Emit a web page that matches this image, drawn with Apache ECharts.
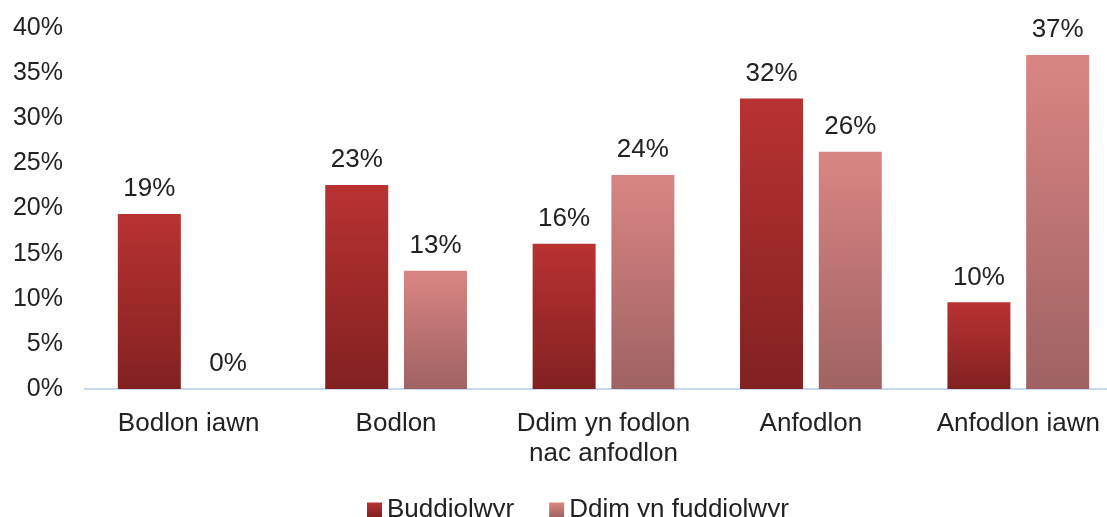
<!DOCTYPE html>
<html>
<head>
<meta charset="utf-8">
<script src="https://cdn.jsdelivr.net/npm/echarts@6/dist/echarts.min.js"></script>
<style>
    html, body { margin: 0; padding: 0; background: #fff; }
    #main { width: 1107px; height: 517px; }
</style>
</head>
<body>
<div id="main"></div>
<script>
var categories = ['Bodlon iawn', 'Bodlon', 'Ddim yn fodlon\nnac anfodlon', 'Anfodlon', 'Anfodlon iawn'];
var seriesNames = ['Buddiolwyr', 'Ddim yn fuddiolwyr'];
var buddiolwyr = [19.4, 22.6, 16.1, 32.2, 9.6];
var ddimBuddiolwyr = [0, 13.1, 23.7, 26.3, 37.0];

function grad(top, bottom) {
    return new echarts.graphic.LinearGradient(0, 0, 0, 1, [
        { offset: 0, color: top },
        { offset: 1, color: bottom }
    ]);
}

var font = 'Liberation Sans, Arial, sans-serif';

var option = {
    animation: false,
    textStyle: { fontFamily: font },
    grid: {
        left: 85,
        width: 1037,
        top: 28,
        bottom: 128,
        containLabel: false,
        outerBoundsMode: 'none'
    },
    legend: {
        bottom: -11,
        left: 362,
        icon: 'rect',
        itemWidth: 15,
        itemHeight: 15,
        itemGap: 35,
        textStyle: { fontSize: 26, color: '#222', fontFamily: font },
        data: seriesNames
    },
    xAxis: {
        type: 'category',
        data: categories,
        axisLine: { lineStyle: { color: '#c9d9ec', width: 2 } },
        axisTick: { show: false },
        axisLabel: {
            color: '#222',
            fontSize: 26,
            lineHeight: 30,
            margin: 20,
            interval: 0
        }
    },
    yAxis: {
        type: 'value',
        min: 0,
        max: 40,
        interval: 5,
        axisLine: { show: false },
        axisTick: { show: false },
        splitLine: { show: false },
        axisLabel: {
            color: '#222',
            fontSize: 25,
            margin: 22,
            formatter: '{value}%'
        }
    },
    series: [
        {
            name: seriesNames[0],
            type: 'bar',
            barWidth: 63,
            barGap: '25%',
            data: buddiolwyr,
            itemStyle: { color: grad('#b93232', '#822121') },
            label: {
                show: true,
                position: 'top',
                distance: 12,
                fontSize: 26,
                color: '#222',
                formatter: function (p) { return Math.round(p.value) + '%'; }
            }
        },
        {
            name: seriesNames[1],
            type: 'bar',
            barWidth: 63,
            data: ddimBuddiolwyr,
            itemStyle: { color: grad('#d98683', '#9f6262') },
            label: {
                show: true,
                position: 'top',
                distance: 12,
                fontSize: 26,
                color: '#222',
                formatter: function (p) { return Math.round(p.value) + '%'; }
            }
        }
    ]
};

echarts.init(document.getElementById('main')).setOption(option);
</script>
</body>
</html>
